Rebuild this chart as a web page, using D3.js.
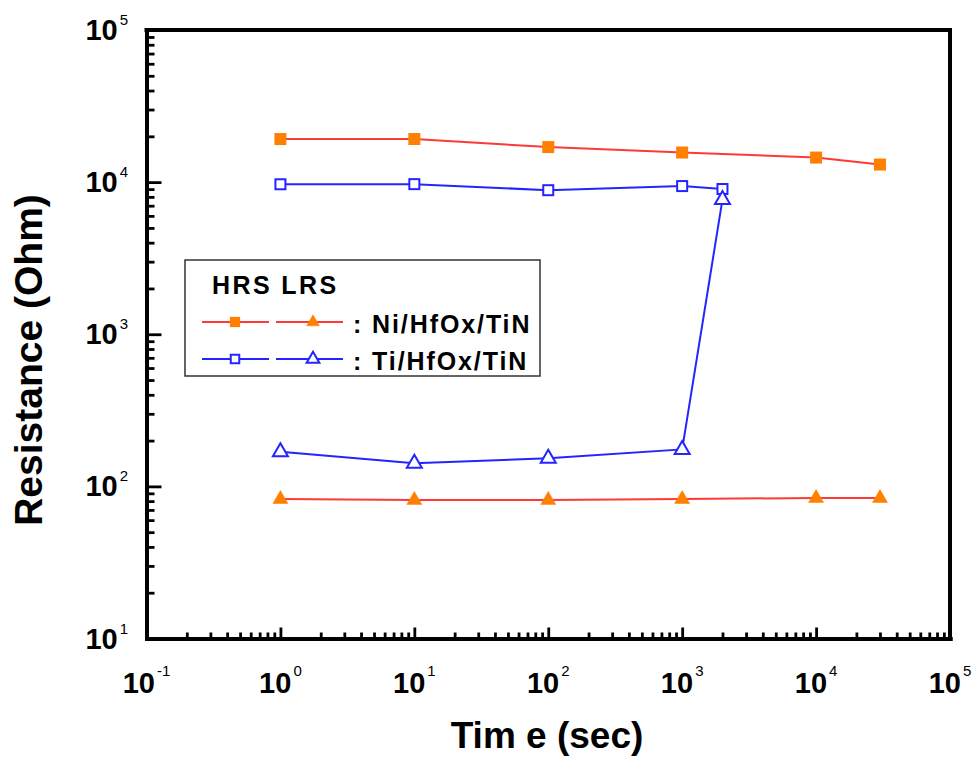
<!DOCTYPE html>
<html>
<head>
<meta charset="utf-8">
<script src="https://cdn.jsdelivr.net/npm/d3@7/dist/d3.min.js"></script>
<style>
  body { margin: 0; background: #fff; }
  svg { display: block; font-family: Arial, "Liberation Sans", sans-serif; }
</style>
</head>
<body>
<script>
const width = 975;
const height = 757;

// data
const niTime = [1, 10, 100, 1000, 10000, 30000];
const niHRS = [19200, 19200, 17000, 15650, 14500, 13050];
const niLRS = [82.6, 81.5, 81.5, 82.6, 83.9, 83.9];

const tiTime = [1, 10, 100, 1000, 2000];
const tiHRS = [9680, 9700, 8850, 9420, 9010];
const tiLRS = [169, 142, 153, 175, 7700];

const xExponents = [-1, 0, 1, 2, 3, 4, 5];
const yExponents = [1, 2, 3, 4, 5];

const legendTitle = 'HRS LRS';
const legendLabels = [': Ni/HfOx/TiN', ': Ti/HfOx/TiN'];

const orange = '#ff8000';
const red = '#ff3838';
const blue = '#2424ff';

//scales
const xScale = d3.scaleLog().domain([0.1, 1e5]).range([146.5, 950]);
const yScale = d3.scaleLog().domain([10, 1e5]).range([638.5, 30]);

// minor ticks 2..9 in each decade
function minorTicks(exps) {
    const out = [];
    for (let i = 0; i < exps.length - 1; i++) {
        for (let m = 2; m <= 9; m++) out.push(m * Math.pow(10, exps[i]));
    }
    return out;
}
const xMajor = xExponents.map(e => Math.pow(10, e));
const yMajor = yExponents.map(e => Math.pow(10, e));

const svg = d3.select('body')
    .append('svg')
    .attr('width', width)
    .attr('height', height);

//x axis
const xAxisG = svg.append('g').attr('transform', `translate(0, ${yScale.range()[0]})`);
xAxisG.append('g')
    .call(d3.axisBottom(xScale).tickValues(minorTicks(xExponents)).tickSize(-6).tickSizeOuter(0).tickFormat(''));
xAxisG.append('g')
    .call(d3.axisBottom(xScale).tickValues(xMajor).tickSize(-11).tickSizeOuter(0).tickFormat(''));

//y axis
const yAxisG = svg.append('g').attr('transform', `translate(${xScale.range()[0]}, 0)`);
yAxisG.append('g')
    .call(d3.axisLeft(yScale).tickValues(minorTicks(yExponents)).tickSize(-8).tickSizeOuter(0).tickFormat(''));
yAxisG.append('g')
    .call(d3.axisLeft(yScale).tickValues(yMajor).tickSize(-15).tickSizeOuter(0).tickFormat(''));

svg.selectAll('.tick line').attr('stroke', '#000').attr('stroke-width', 2.8);
svg.selectAll('.domain').attr('stroke', '#000').attr('stroke-width', 4).attr('stroke-linecap', 'square');

// top and right frame
svg.append('path')
    .attr('d', `M${xScale.range()[0]},${yScale.range()[1]}H${xScale.range()[1]}V${yScale.range()[0]}`)
    .attr('fill', 'none')
    .attr('stroke', '#000')
    .attr('stroke-width', 4)
    .attr('stroke-linecap', 'square');

// tick labels 10^n
const xLab = svg.append('g').selectAll('text')
    .data(xExponents)
    .enter().append('text')
    .attr('x', d => xScale(Math.pow(10, d)))
    .attr('y', 693)
    .attr('text-anchor', 'middle');
xLab.append('tspan').attr('font-size', 29).attr('font-weight', 'bold').text('10');
xLab.append('tspan').attr('font-size', 15).attr('dx', 2).attr('dy', -17).text(d => d);

const yLab = svg.append('g').selectAll('text')
    .data(yExponents)
    .enter().append('text')
    .attr('x', 128)
    .attr('y', d => yScale(Math.pow(10, d)) + 10)
    .attr('text-anchor', 'end');
yLab.append('tspan').attr('font-size', 29).attr('font-weight', 'bold').text('10');
yLab.append('tspan').attr('font-size', 15).attr('dx', 2).attr('dy', -15).text(d => d);

// axis titles
svg.append('text')
    .attr('x', 547)
    .attr('y', 748)
    .attr('text-anchor', 'middle')
    .style('font-size', '37px')
    .style('font-weight', 'bold')
    .text('Tim e (sec)');

svg.append('text')
    .attr('transform', 'rotate(-90)')
    .attr('x', -360)
    .attr('y', 42)
    .attr('text-anchor', 'middle')
    .style('font-size', '39px')
    .style('font-weight', 'bold')
    .text('Resistance (Ohm)');

// series
const series = [
    {t: niTime, r: niHRS, line: red, shape: 'square', filled: true},
    {t: niTime, r: niLRS, line: red, shape: 'triangle', filled: true},
    {t: tiTime, r: tiHRS, line: blue, shape: 'square', filled: false},
    {t: tiTime, r: tiLRS, line: blue, shape: 'triangle', filled: false}
];

const line = d3.line().x(d => xScale(d[0])).y(d => yScale(d[1]));

function drawMarker(g, s, cx, cy, k) {
    const fill = s.filled ? orange : '#fff';
    const stroke = s.filled ? orange : blue;
    if (s.shape === 'square') {
        const size = (s.filled ? 12 : 10) * k;
        g.append('rect')
            .attr('x', cx - size / 2).attr('y', cy - size / 2)
            .attr('width', size).attr('height', size)
            .attr('fill', fill)
            .attr('stroke', stroke)
            .attr('stroke-width', s.filled ? 0 : 2);
    } else {
        g.append('path')
            .attr('d', `M0,${-8.5 * k}L${7.5 * k},${4.5 * k}L${-7.5 * k},${4.5 * k}Z`)
            .attr('transform', `translate(${cx},${cy})`)
            .attr('fill', fill)
            .attr('stroke', stroke)
            .attr('stroke-width', s.filled ? 0.5 : 2);
    }
}

series.forEach(s => {
    const pts = s.t.map((t, i) => [t, s.r[i]]);
    svg.append('path')
        .datum(pts)
        .attr('d', line)
        .attr('fill', 'none')
        .attr('stroke', s.line)
        .attr('stroke-width', 2);
});
series.forEach(s => {
    const g = svg.append('g');
    s.t.forEach((t, i) => drawMarker(g, s, xScale(t), yScale(s.r[i]), 1));
});

//legend
const legend = svg.append('g');
legend.append('rect')
    .attr('x', 185).attr('y', 260)
    .attr('width', 355).attr('height', 116)
    .attr('fill', '#fff')
    .attr('stroke', '#333')
    .attr('stroke-width', 1.5);
legend.append('text')
    .attr('x', 212).attr('y', 294)
    .style('font-size', '25px')
    .style('font-weight', 'bold')
    .style('letter-spacing', '2.4px')
    .text(legendTitle);

legendLabels.forEach((label, row) => {
    const ly = 322 + row * 37;
    [series[row * 2], series[row * 2 + 1]].forEach((s, col) => {
        const x0 = 202 + col * 74;
        legend.append('line')
            .attr('x1', x0).attr('x2', x0 + 67)
            .attr('y1', ly).attr('y2', ly)
            .attr('stroke', s.line)
            .attr('stroke-width', 2);
        drawMarker(legend, s, x0 + 33 + col * 4, ly, 0.85);
    });
    legend.append('text')
        .attr('x', 353).attr('y', ly + 11)
        .style('font-size', '25px')
        .style('font-weight', 'bold')
        .style('letter-spacing', '1.9px')
        .text(label);
});
</script>
</body>
</html>
